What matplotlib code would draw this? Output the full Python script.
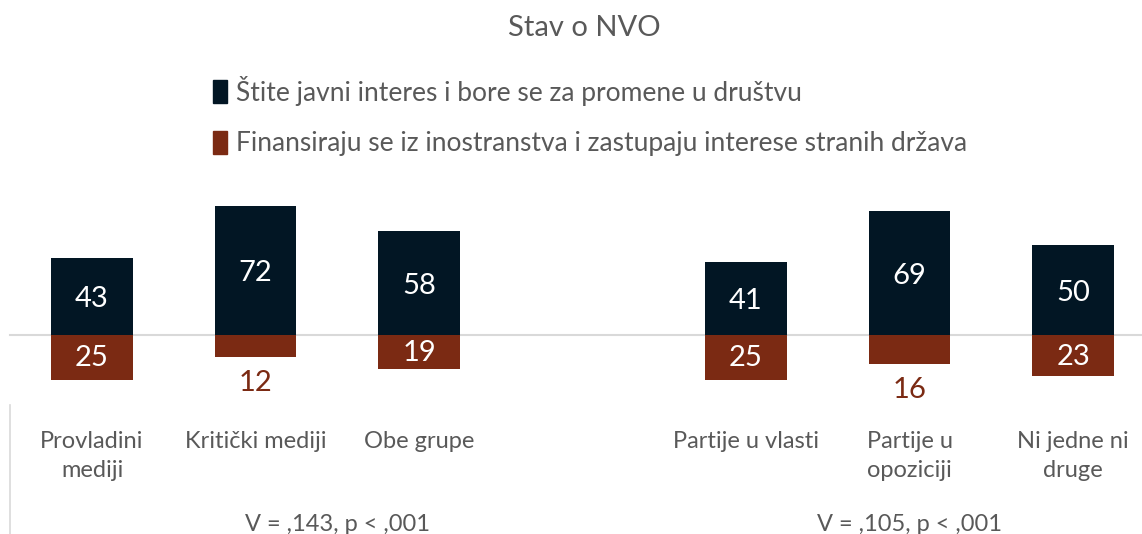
import matplotlib.pyplot as plt
from matplotlib.patches import Patch

plt.rcParams['font.family'] = ['Lato', 'DejaVu Sans']

categories = ['Provladini\nmediji', 'Kritički mediji', 'Obe grupe',
              'Partije u vlasti', 'Partije u\nopoziciji', 'Ni jedne ni\ndruge']
positions = [0, 1, 2, 4, 5, 6]
javni_interes = [43, 72, 58, 41, 69, 50]
strani_interes = [25, 12, 19, 25, 16, 23]
series_names = ['Štite javni interes i bore se za promene u društvu',
                'Finansiraju se iz inostranstva i zastupaju interese stranih država']
stats = ['V = ,143, p < ,001', 'V = ,105, p < ,001']
stats_pos = [1.5, 5.0]

navy = '#021624'
brown = '#7b2a13'
gray_txt = '#595959'

fig = plt.figure(figsize=(11.42, 5.34), dpi=100)
ax = fig.add_axes([0, 0, 1, 1])
ax.set_xlim(-0.5627, 6.422)
ax.set_ylim(-111, 187)
ax.axis('off')

w = 0.5
ax.bar(positions, javni_interes, width=w, color=navy, zorder=2)
ax.bar(positions, [-v for v in strani_interes], width=w, color=brown, zorder=2)
ax.axhline(0, xmin=10 / 1142, xmax=1, color='#d9d9d9', lw=1.5, zorder=1)
ax.plot([-0.5, -0.5], [-39, -111], color='#d9d9d9', lw=1.2, clip_on=False)

for x, v in zip(positions, javni_interes):
    ax.text(x, v / 2 - 1.5, str(v), ha='center', va='center', color='white', fontsize=21)
for x, v in zip(positions, strani_interes):
    if v < 18:
        ax.text(x, -v - 14.5, str(v), ha='center', va='center', color=brown, fontsize=21)
    else:
        ax.text(x, -v / 2 - 0.5, str(v), ha='center', va='center', color='white', fontsize=21)

for x, c in zip(positions, categories):
    ax.text(x, -53.5, c, ha='center', va='top', color=gray_txt, fontsize=17, linespacing=1.5)

for x, s in zip(stats_pos, stats):
    ax.text(x, -109.5, s, ha='center', va='baseline', color=gray_txt, fontsize=17)

fig.text(584 / 1142, 1 - 28 / 534, 'Stav o NVO', ha='center', va='center', color=gray_txt, fontsize=21)

handles = [Patch(color=navy), Patch(color=brown)]
ax.legend(handles, series_names, loc='upper left', bbox_to_anchor=(202 / 1142, 1 - 65 / 534),
          frameon=False, fontsize=19, handlelength=0.55, handleheight=1.0, handletextpad=0.35,
          labelspacing=0.95, labelcolor=gray_txt, borderaxespad=0)

fig.savefig('out.png', dpi=100)
